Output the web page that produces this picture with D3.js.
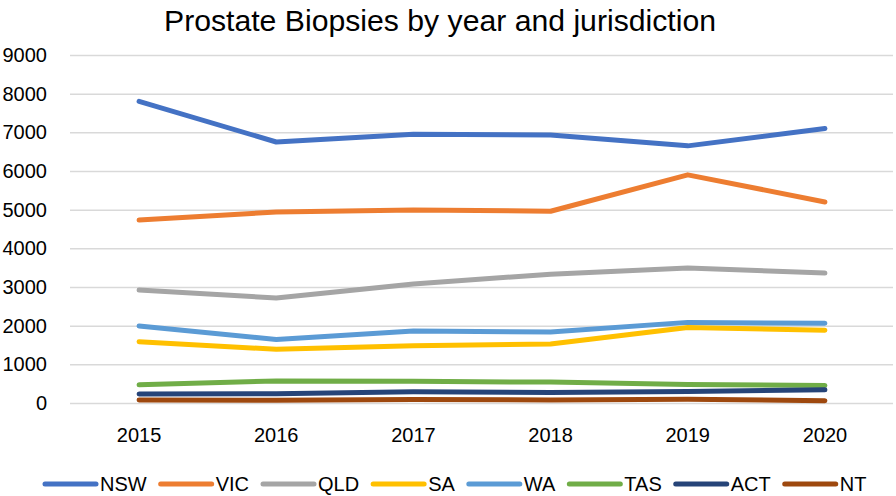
<!DOCTYPE html>
<html><head><meta charset="utf-8">
<script src="https://cdn.jsdelivr.net/npm/d3@7"></script>
<style>body{margin:0;background:#fff}svg{display:block}text{font-family:"Liberation Sans",Arial,sans-serif;fill:#000}</style>
</head><body><svg id="c" width="896" height="496"></svg>
<script>
const years = ["2015","2016","2017","2018","2019","2020"];
const yTicks = [0,1000,2000,3000,4000,5000,6000,7000,8000,9000];
const NSW = [7800, 6750, 6950, 6930, 6650, 7100];
const VIC = [4730, 4940, 4990, 4960, 5900, 5200];
const QLD = [2920, 2715, 3080, 3330, 3490, 3360];
const SA  = [1585, 1390, 1480, 1525, 1955, 1880];
const WA  = [1990, 1645, 1860, 1835, 2085, 2060];
const TAS = [470, 570, 560, 540, 480, 450];
const ACT = [230, 240, 290, 270, 300, 340];
const NT  = [80, 70, 90, 80, 100, 60];
const seriesNames = ["NSW","VIC","QLD","SA","WA","TAS","ACT","NT"];
const seriesValues = [NSW, VIC, QLD, SA, WA, TAS, ACT, NT];
const colors = ["#4472C4","#ED7D31","#A5A5A5","#FFC000","#5B9BD5","#70AD47","#264478","#9E480E"];
const title = "Prostate Biopsies by year and jurisdiction";

const svg = d3.select("#c");
const x = d3.scaleBand().domain(years).range([70.5, 893.5]);
const y = d3.scaleLinear().domain([0, 9000]).range([403, 55]);

svg.append("text").attr("x", 440).attr("y", 31).attr("text-anchor","middle")
  .style("font-size","30px").attr("textLength",552).attr("lengthAdjust","spacingAndGlyphs").text(title);

const gy = svg.append("g").attr("transform","translate(70,0)")
  .call(d3.axisLeft(y).tickValues(yTicks).tickSize(-823).tickFormat(d => d).tickPadding(23));
gy.select(".domain").remove();
gy.selectAll(".tick line").attr("stroke","#d9d9d9").attr("stroke-width",1.5);
gy.selectAll(".tick text").style("font-size","20px").attr("fill","#000").attr("font-family",null);

const gx = svg.append("g").attr("transform","translate(0,403)")
  .call(d3.axisBottom(x).tickSize(0).tickPadding(25));
gx.select(".domain").remove();
gx.selectAll(".tick text").style("font-size","20px").attr("fill","#000").attr("font-family",null);

const line = d3.line().x((d,i) => x(years[i]) + x.bandwidth()/2).y(d => y(d));
seriesValues.forEach((vals, k) => {
  svg.append("path").datum(vals).attr("d", line).attr("fill","none")
    .attr("stroke", colors[k]).attr("stroke-width", 5).attr("stroke-linecap","round").attr("stroke-linejoin","round");
});

const lg = svg.append("g");
let lx = 43;
seriesNames.forEach((n, k) => {
  lg.append("line").attr("x1", lx+2).attr("x2", lx+53).attr("y1",484).attr("y2",484)
    .attr("stroke", colors[k]).attr("stroke-width",5).attr("stroke-linecap","round");
  const t = lg.append("text").attr("x", lx+57).attr("y", 491).style("font-size","20px").text(n);
  lx += 57 + t.node().getComputedTextLength() + 12;
});
</script></body></html>
